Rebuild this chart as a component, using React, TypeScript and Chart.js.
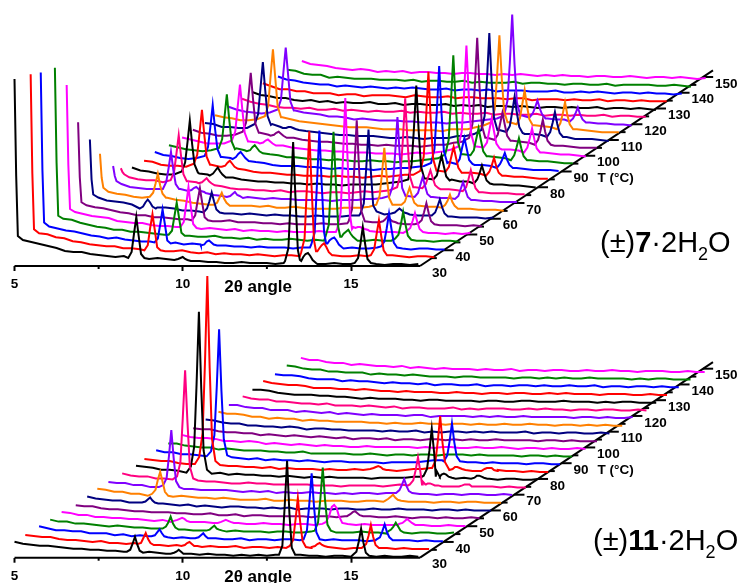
import React, { useEffect, useRef } from "react";
import { Chart, registerables } from "chart.js";

Chart.register(...registerables);

const FONT = '"Liberation Sans", Arial, sans-serif';
const temps = [30,35,40,45,50,55,60,65,70,75,80,85,90,95,100,105,110,115,120,125,130,135,140,145,150];
const palette = ["#000000","#ff0000","#0000ff","#008000","#ff00ff","#800080","#000080","#ff8000","#8000ff","#ff0080"];
const xTickLabels = [5,10,15];
const xMinorTicks = [7.5,12.5];
const tTicks = [30,40,50,60,70,80,90,100,110,120,130,140,150];
const tMinorTicks = [35,45,55,65,75,85,95,105,115,125,135,145];
const bgTheta = [5,5.25,5.5,5.75,6,6.25,6.5, 6.75,7,7.25,7.5,7.75,8,8.25, 8.5,8.75,9,9.25,9.5,9.75,10, 10.25,10.5,10.75,11,11.25,11.5,11.75, 12,12.25,12.5,12.75,13,13.25,13.5, 13.75,14,14.25,14.5,14.75,15,15.25, 15.5,15.75,16,16.25,16.5,16.75,17];
const peakOffsets = [-0.24,-0.14,-0.07,0,0.07,0.14,0.24];
const spikeTheta = [5,5.05,5.1];

// ---- (±)7·2H2O ----
const topShift = [0,.48,.78,1.2,1.55,1.89,2.24,2.54,2.93,3.16,3.49,3.85,4.17,4.59,4.98,5.3,5.66,5.96,6.34,6.76,7.06,7.38,7.83,8.1,8.54];
const topSpikes = [[187,90,30],[184,85,29],[178,80,28],[175,80,27],[150,70,26],[105,50,25],[80,40,25],[58,34,24],[38,28,23],[28,24,22]];
const topBg = [
[30,26,24,22,20,18,15, 14,14,12,11,10,9,10, 8,8,7,8,7,6,6, 5,5,4,4,3,3,4, 3,3,3,2,3,3,2, 3,2,2,3,2,2,2, 3,2,1,2,2,1,2],
[28,25,24,21,20,17,16, 14,13,12,12,10,10,9, 8,9,7,7,8,6,5, 6,4,5,4,4,3,4, 3,2,3,3,2,3,3, 2,3,2,2,3,2,1, 2,3,2,1,2,2,1],
[27,24,22,20,19,17,15, 14,12,13,11,10,9,9, 9,7,8,6,7,6,5, 5,5,4,4,3,4,3, 3,3,2,3,3,2,3, 2,2,3,2,2,3,2, 2,2,1,2,2,1,1],
[26,24,23,20,18,16,15, 13,13,11,11,10,9,8, 8,8,7,6,6,7,5, 5,4,5,3,4,3,3, 4,3,2,3,2,3,3, 3,2,2,3,2,2,2, 1,2,2,1,2,2,1],
[26,23,21,19,18,17,14, 13,12,12,10,9,9,8, 7,8,6,7,6,5,6, 4,5,4,4,3,4,3, 3,3,4,3,3,3,4, 4,4,3,3,3,2,3, 2,2,2,1,2,1,2],
[25,22,20,19,17,15,14, 12,12,10,10,9,8,8, 7,8,6,6,7,5,5, 5,4,4,3,4,3,3, 3,4,3,3,4,4,4, 5,5,4,4,3,3,3, 3,2,2,2,1,2,1],
[24,22,19,18,17,15,14, 13,12,12,11,9,9,8, 7,7,6,6,5,6,5, 4,5,4,4,3,3,4, 3,3,3,4,4,5,5, 5,6,5,5,4,4,4, 3,3,2,2,2,1,2],
[22,20,18,17,15,14,14, 14,14,12,11,9,8,7, 7,7,6,6,6,5,6, 4,4,5,4,3,3,3, 3,4,4,4,5,6,7, 7,6,7,6,5,5,5, 4,3,3,2,2,2,1],
[22,20,17,16,15,15,14, 15,15,13,12,11,9,8, 7,6,7,6,5,6,5, 5,4,4,4,4,3,4, 4,4,5,5,6,7,8, 8,8,7,7,6,6,5, 5,4,3,3,2,2,2],
[21,19,17,16,16,14,15, 16,15,14,12,12,10,8, 7,7,6,6,5,6,4, 5,5,4,3,4,4,3, 4,5,4,5,6,8,9, 9,8,8,7,7,6,6, 5,4,3,3,3,2,2],
[21,18,17,15,14,14,15, 17,15,14,13,12,11,9, 8,7,7,6,6,5,5, 4,5,4,4,3,4,4, 4,4,5,6,7,8,9, 10,9,8,9,7,7,6, 6,4,4,3,3,2,1],
[20,19,16,15,15,14,16, 17,16,14,14,13,11,9, 8,8,7,6,6,5,5, 5,4,5,4,4,3,4, 5,4,5,6,6,9,10, 10,9,9,8,8,7,6, 6,5,4,4,3,2,2],
[21,18,17,15,14,15,16, 18,16,15,13,13,11,10, 8,7,7,7,6,6,5, 4,5,4,4,4,3,4, 4,5,5,6,7,8,10, 11,10,9,8,8,7,7, 6,5,4,3,3,3,2],
[20,18,16,15,14,15,16, 18,17,15,14,12,11,10, 8,8,7,6,6,5,6, 5,4,4,5,4,4,3, 4,4,5,6,7,9,11, 11,10,9,9,8,7,6, 6,5,4,4,3,2,2],
[20,18,16,14,14,14,15, 18,16,15,14,13,12,10, 9,8,7,7,6,6,5, 5,5,4,4,4,3,4, 5,4,5,6,8,9,11, 11,10,10,8,8,7,7, 6,5,4,3,3,2,1],
[20,17,16,14,14,15,17, 19,17,15,14,13,12,10, 9,8,8,7,6,6,5, 5,4,5,4,4,4,3, 4,5,5,7,8,10,12, 12,10,9,9,8,7,6, 6,4,4,3,2,2,2],
[19,18,15,15,14,14,16, 19,18,15,14,13,11,10, 9,8,7,7,6,6,6, 5,4,4,5,4,3,4, 4,4,6,6,8,10,11, 12,11,9,8,8,7,6, 6,5,3,3,3,2,1],
[19,17,16,14,14,15,17, 20,17,15,13,12,11,10, 9,8,7,7,7,6,5, 5,5,4,4,4,4,3, 5,5,5,7,9,10,12, 12,11,10,9,8,7,7, 6,5,4,3,2,2,2],
[20,17,15,14,13,14,16, 19,16,14,13,12,10,10, 9,7,8,7,6,6,6, 5,5,4,4,4,3,4, 4,5,6,7,8,10,11, 11,10,9,8,7,7,6, 5,4,3,3,2,2,1],
[20,17,15,14,12,11,11, 10,11,9,9,10,8,9, 8,7,8,7,7,8,6, 7,6,6,7,5,6,5, 5,6,4,5,5,4,4, 5,3,4,4,3,4,3, 3,4,2,3,3,2,2],
[19,16,15,13,13,11,10, 11,9,10,8,9,8,8, 9,7,7,8,6,7,7, 6,6,7,5,6,5,6, 4,5,5,4,5,4,3, 4,4,3,4,3,3,4, 2,3,3,2,3,2,1],
[20,17,14,14,12,12,10, 10,10,8,9,9,7,8, 8,8,7,6,8,7,6, 6,7,5,6,6,5,5, 5,4,5,5,3,4,4, 4,3,4,3,3,4,2, 3,3,2,3,2,2,2],
[19,16,15,13,12,11,11, 9,10,9,8,9,8,7, 8,7,8,7,6,6,7, 5,6,6,5,6,4,5, 5,5,4,4,4,5,3, 3,4,3,4,3,2,3, 3,2,3,2,2,1,2],
[18,17,14,13,13,10,11, 10,9,9,9,8,8,8, 7,8,6,7,7,6,6, 7,5,6,5,5,5,6, 4,5,5,4,4,3,4, 4,3,3,4,2,3,3, 3,3,2,2,3,2,1],
[19,16,15,14,12,11,10, 11,10,8,9,8,9,7, 8,8,7,7,6,7,7, 6,6,5,6,5,6,5, 4,5,4,5,4,4,3, 4,4,3,3,4,3,2, 3,3,2,3,2,1,2],
];
const topPeaks = [
[[8.62,[8,14,32,49,30,12,8]],[10,[6,7,8,9,7,6,5]],[13.28,[5,18,70,124,68,16,5]],[13.72,[6,9,12,13,10,6,3]],[15.35,[3,8,22,39,22,7,3]]],
[[8.62,[8,13,30,44,28,11,8]],[13.28,[6,20,72,127,70,18,7]],[13.72,[7,10,13,15,11,6,3]],[15.35,[3,9,24,38,22,8,3]]],
[[8.62,[8,12,26,41,26,10,7]],[10,[5,6,9,10,8,6,5]],[13.28,[6,18,68,120,66,18,7]],[13.72,[7,10,12,13,10,6,3]],[15.35,[4,9,22,37,22,8,3]]],
[[8.62,[8,12,26,40,25,10,7]],[13.28,[6,18,62,111,60,16,6]],[13.72,[6,9,11,13,9,6,3]],[15.35,[4,8,18,31,18,7,3]]],
[[8.62,[8,13,30,48,28,11,7]],[13.28,[6,22,76,137,74,20,8]],[13.72,[6,7,8,8,7,6,5]],[15.35,[4,7,14,22,13,6,3]]],
[[8.62,[7,12,26,39,24,10,7]],[13.28,[6,18,60,107,58,16,6]],[14.2,[5,6,8,11,8,6,5]],[15.35,[4,7,15,24,14,6,3]]],
[[6.72,[11,13,17,20,17,13,11]],[8.62,[7,11,18,27,18,10,7]],[13.28,[6,16,50,90,48,14,8]],[14.2,[6,7,9,11,9,7,6]],[15.4,[4,7,13,20,12,6,3]]],
[[6.72,[15,19,28,38,26,18,14]],[8.62,[7,9,14,19,13,9,6]],[13.45,[7,16,38,64,36,14,7]],[14.2,[7,10,17,24,16,9,6]],[15.4,[4,7,11,17,10,6,3]]],
[[6.72,[15,22,36,52,34,20,15]],[7.47,[13,14,16,17,15,13,12]],[8.62,[7,8,10,12,9,8,6]],[13.45,[8,18,50,87,48,16,8]],[14.2,[7,11,19,27,18,10,7]],[15.4,[5,8,15,22,14,7,4]]],
[[6.72,[16,24,42,61,40,22,15]],[7.55,[13,14,16,18,15,13,11]],[13.45,[9,22,56,98,54,20,9]],[14.2,[8,12,19,26,18,11,8]],[15.4,[5,9,17,26,16,8,4]]],
[[6.72,[17,26,46,68,44,24,16]],[7.55,[13,15,18,21,17,14,11]],[13.45,[9,24,60,103,58,22,10]],[14.2,[9,13,23,33,22,12,8]],[15.4,[5,9,15,23,15,8,5]]],
[[6.72,[17,26,48,71,46,24,16]],[7.55,[14,15,18,20,17,14,12]],[13.45,[10,24,62,109,60,22,10]],[14.2,[9,14,24,34,23,13,8]],[15.4,[5,9,15,23,14,8,5]]],
[[6.72,[17,26,46,68,44,24,16]],[7.55,[14,16,19,21,18,15,12]],[13.45,[10,24,62,107,60,22,10]],[14.2,[9,14,25,35,24,13,9]],[15.4,[5,9,14,20,13,8,5]]],
[[6.72,[17,26,48,71,46,24,16]],[7.55,[14,15,18,20,17,14,12]],[13.45,[11,25,64,110,62,23,11]],[14.2,[10,15,26,37,25,14,9]],[15.4,[5,10,18,27,17,9,5]]],
[[6.72,[17,26,50,73,48,25,16]],[7.55,[14,15,17,18,16,14,12]],[13.45,[11,26,64,112,62,24,11]],[14.2,[10,15,27,39,26,14,9]],[15.4,[5,10,19,29,18,9,5]]],
[[6.72,[18,27,52,77,50,26,17]],[7.55,[14,15,17,18,16,14,12]],[13.45,[12,26,64,112,62,24,12]],[14.2,[10,15,26,37,25,14,9]],[15.4,[5,10,19,30,18,9,5]]],
[[6.72,[18,28,54,80,52,26,17]],[7.55,[14,14,15,15,14,13,12]],[13.45,[12,26,62,109,60,24,12]],[14.2,[10,16,30,45,29,15,9]],[15.4,[5,10,19,30,18,9,5]]],
[[6.72,[18,29,58,85,56,28,17]],[13.45,[12,25,58,99,56,23,12]],[14.2,[10,16,30,44,28,15,9]],[15.4,[5,11,20,32,19,10,5]]],
[[6.72,[17,27,54,79,52,25,16]],[13.45,[11,26,64,112,62,24,11]],[14.2,[9,13,19,26,18,12,8]],[15.4,[5,8,13,19,12,7,4]]],
[],[],[],[],[],[],
];

// ---- (±)11·2H2O ----
const botShift = [0,.32,.73,1.06,1.4,1.82,2.16,2.46,2.79,3.2,3.61,3.86,4.21,4.57,4.97,5.31,5.68,6.06,6.37,6.78,7.07,7.39,7.74,8.09,8.51];
const botBg = [
[16,14,13,12,12,11,10, 9,9,8,8,7,7,6, 6,5,6,5,4,5,4, 4,3,4,3,3,2,3, 2,3,2,3,2,2,3, 2,2,1,2,2,1,2, 2,1,2,1,1,2,1],
[15,14,13,13,11,10,10, 9,8,9,7,7,6,7, 5,6,5,4,5,4,4, 3,4,3,3,4,2,3, 3,2,3,2,2,3,2, 2,3,2,1,2,2,1, 2,2,1,2,1,1,1],
[16,14,12,12,11,11,9, 9,9,7,8,6,7,6, 6,5,4,5,4,4,3, 4,3,3,4,2,3,3, 2,3,3,2,3,2,2, 3,2,2,2,1,2,2, 1,2,2,1,2,1,1],
[15,13,13,11,11,10,9, 8,9,8,7,7,6,6, 5,6,5,4,4,5,4, 3,4,3,3,3,2,3, 3,2,2,3,2,3,2, 2,2,3,2,2,1,2, 2,1,2,2,1,1,2],
[15,14,12,12,10,10,9, 9,8,8,7,6,7,5, 6,5,5,5,4,4,4, 4,3,3,4,3,3,2, 3,3,2,3,3,2,3, 2,3,2,2,2,2,1, 2,2,1,1,2,1,1],
[14,13,13,11,10,10,9, 8,8,7,7,7,6,6, 5,5,6,4,4,5,3, 4,4,3,3,3,3,3, 2,3,3,2,3,2,2, 3,2,2,3,2,1,2, 2,1,2,1,1,2,1],
[15,13,12,11,11,9,9, 9,7,8,7,6,7,5, 6,5,4,5,5,4,4, 3,4,3,4,2,3,3, 3,2,3,3,2,2,3, 2,2,3,2,2,2,1, 2,2,1,2,1,1,1],
[15,14,12,12,10,10,8, 9,8,7,8,7,6,6, 5,6,5,4,4,4,5, 3,3,4,3,3,2,3, 3,3,2,2,3,3,2, 3,2,2,2,2,1,2, 2,1,2,2,1,1,1],
[14,13,13,11,11,9,9, 8,9,7,7,6,6,6, 6,5,4,5,4,5,3, 4,3,3,4,3,3,2, 3,2,3,3,2,3,3, 2,3,2,2,1,2,2, 1,2,2,1,1,2,1],
[15,13,12,12,10,10,9, 9,8,8,7,7,6,5, 5,6,5,5,4,4,4, 4,4,3,3,3,2,3, 3,3,3,2,3,4,3, 3,2,3,2,2,2,1, 2,2,2,1,2,1,1],
[15,14,13,11,11,10,8, 9,8,7,8,6,7,6, 6,5,5,4,5,4,3, 4,3,4,3,3,3,3, 2,3,3,3,3,4,4, 3,3,2,2,3,2,2, 2,1,2,2,1,1,2],
[14,13,12,12,10,9,9, 9,7,8,7,7,6,6, 5,6,4,5,4,4,4, 3,4,3,3,4,3,3, 3,3,2,3,4,4,5, 4,3,3,3,2,2,2, 3,2,2,1,2,1,1],
[15,13,13,11,11,10,9, 8,8,8,7,6,7,5, 6,5,5,4,5,4,3, 4,4,3,3,3,3,2, 3,3,3,3,4,5,5, 4,4,3,3,2,3,2, 2,2,1,2,2,1,1],
[14,14,12,11,10,10,8, 9,8,7,7,7,6,6, 5,5,6,4,4,4,4, 4,3,3,4,3,2,3, 3,2,3,3,2,3,3, 3,2,3,2,2,2,2, 1,2,2,1,2,1,1],
[15,13,12,12,11,9,9, 8,9,8,6,7,6,5, 6,5,4,5,4,4,3, 3,4,3,3,3,3,3, 2,3,2,3,3,2,2, 3,2,2,3,2,1,2, 2,1,2,1,1,2,1],
[14,13,13,11,10,10,9, 9,7,8,7,6,7,6, 5,6,5,4,5,3,4, 4,3,4,2,3,3,2, 3,3,2,3,2,3,2, 2,3,2,2,2,2,1, 2,2,1,2,1,1,1],
[15,14,12,11,11,9,9, 8,8,7,8,7,5,6, 6,5,5,4,4,4,4, 3,4,3,3,4,2,3, 2,3,3,2,3,2,3, 2,2,2,3,1,2,2, 1,2,2,1,1,2,1],
[15,13,13,12,10,10,8, 9,8,8,6,7,6,6, 5,5,5,5,4,4,3, 4,3,3,4,3,3,2, 3,3,2,3,2,2,3, 2,2,3,2,2,1,2, 2,1,2,1,2,1,1],
[14,14,12,11,11,9,9, 9,7,8,7,6,7,5, 6,5,4,5,4,4,4, 3,4,4,2,3,3,3, 3,2,3,2,3,2,2, 3,2,2,2,2,2,1, 2,2,1,2,1,1,2],
[15,13,12,12,10,10,9, 8,8,7,8,6,6,6, 5,6,5,4,5,3,4, 4,3,3,3,4,2,3, 2,3,3,3,2,2,3, 2,3,2,2,1,2,2, 1,2,2,1,1,2,1],
[14,14,13,11,10,9,9, 9,8,8,7,7,6,5, 6,5,5,5,4,4,3, 4,4,3,3,3,3,2, 3,3,2,2,3,3,2, 2,2,3,2,2,2,1, 2,1,2,2,1,1,1],
[15,13,12,11,11,10,8, 8,8,7,7,6,7,6, 5,5,4,5,4,4,4, 3,3,4,3,3,2,3, 3,2,3,3,2,2,3, 2,3,2,2,2,1,2, 2,2,1,1,2,1,1],
[14,13,13,12,10,9,9, 9,7,8,7,7,6,5, 6,5,5,4,5,3,4, 4,3,3,4,2,3,3, 2,3,3,2,3,2,2, 3,2,2,3,1,2,2, 1,2,2,1,2,1,1],
[15,14,12,11,11,9,9, 8,8,8,6,7,6,6, 5,6,5,4,4,4,3, 4,4,3,3,3,3,2, 3,3,2,3,2,3,2, 2,3,2,2,2,2,1, 2,1,2,2,1,1,1],
[15,13,13,11,10,10,8, 9,8,7,7,6,7,5, 6,5,4,5,4,4,4, 3,4,3,3,4,2,3, 3,2,3,3,2,2,3, 2,2,3,2,2,1,2, 2,2,1,1,2,1,1],
];
const botPeaks = [
[[8.58,[6,8,14,21,13,7,5]],[9.88,[4,5,6,8,6,4,4]],[13.1,[3,12,52,97,44,10,3]],[15.3,[3,6,16,29,15,5,2]]],
[[8.58,[6,7,12,17,11,7,5]],[9.88,[4,5,7,8,6,4,4]],[13.1,[4,10,30,52,28,9,3]],[13.75,[3,4,6,7,5,4,3]],[15.27,[3,6,14,25,13,5,2]]],
[[8.58,[6,7,10,13,9,6,5]],[9.88,[4,5,7,9,6,4,4]],[13.1,[3,12,38,69,36,10,3]],[15.27,[3,5,11,18,10,5,2]]],
[[8.58,[6,8,12,18,11,7,5]],[9.88,[4,5,7,9,6,5,4]],[13.1,[4,12,36,67,34,10,4]],[15.27,[3,5,8,12,8,4,2]]],
[[8.58,[6,7,8,9,8,6,5]],[9.88,[4,5,6,7,6,5,4]],[13.1,[5,12,20,22,19,11,4]],[15.27,[3,4,6,8,6,4,2]]],
[[13.3,[3,5,7,8,6,4,3]]],
[[6.87,[9,10,12,14,11,9,8]]],
[[6.87,[10,14,24,32,22,12,8]],[13.79,[3,5,7,9,6,4,3]]],
[[6.87,[11,18,40,66,38,15,9]],[13.79,[3,6,11,17,10,5,3]]],
[[6.87,[12,26,70,118,66,22,10]],[13.79,[4,8,18,31,17,7,4]],[14.15,[4,4,5,5,4,3,3]],[15.25,[2,3,4,4,4,2,2]]],
[[6.87,[14,34,96,169,92,30,11]],[13.79,[5,12,30,52,28,10,4]],[14.15,[4,5,6,7,6,4,3]],[15.2,[2,3,5,5,4,3,2]]],
[[6.87,[16,40,110,197,105,34,12]],[11.95,[4,5,6,7,6,4,3]],[13.79,[5,12,32,57,30,11,5]],[14.3,[3,4,6,6,5,4,3]],[15.25,[2,4,5,5,5,3,2]]],
[[6.87,[14,30,78,136,74,26,10]],[13.79,[4,10,24,42,23,9,4]]],
[],[],[],[],[],[],[],[],[],[],[],[],
];

const X0 = 17.05;
const SHEAR = 0.0701;
const RISE = 1.575;
const TMAX = 154.2;
const XMIN = 4.569;
const XMAX = 26.53;

type Pt = { x: number; y: number };

function buildSeries(bg: number[], peaks: any[], spike: number[] | undefined, shift: number, lift: number): Pt[] {
  const inPeak = (t: number) => peaks.some(([c]) => t >= c + peakOffsets[0] && t <= c + peakOffsets[6]);
  const pts: [number, number][] = [];
  bgTheta.forEach((t, k) => {
    if (!inPeak(t) && !(spike && t <= spikeTheta[2])) pts.push([t, bg[k]]);
  });
  peaks.forEach(([c, v]) => v.forEach((y: number, k: number) => pts.push([c + peakOffsets[k], y])));
  if (spike) spike.forEach((y, k) => pts.push([spikeTheta[k], y]));
  pts.sort((a, b) => a[0] - b[0]);
  return pts.map(([t, y]) => ({ x: t + shift, y: y + lift }));
}

function makeDatasets(bgs: number[][], peaks: any[][], spikes: number[][], shifts: number[], liftPerC: number) {
  const ds: any[] = temps.map((T, i) => ({
    label: T + " °C",
    data: buildSeries(bgs[i], peaks[i], spikes[i], shifts[i], (T - 30) * liftPerC),
    borderColor: palette[i % palette.length],
    borderWidth: 2,
    pointRadius: 0,
    tension: 0,
    clip: false,
  }));
  const axisDs = (data: Pt[]) => ({ data, borderColor: "#000", borderWidth: 2, pointRadius: 0, clip: false, tension: 0 });
  ds.push(axisDs([{ x: 5, y: 0 }, { x: X0, y: 0 }]));
  ds.push(axisDs([{ x: X0, y: 0 }, { x: X0 + SHEAR * (TMAX - 30), y: RISE * (TMAX - 30) }]));
  tTicks.slice(1).forEach((T) => {
    const x = X0 + SHEAR * (T - 30), y = RISE * (T - 30);
    ds.push(axisDs([{ x, y }, { x: x + 0.3, y }]));
  });
  tMinorTicks.forEach((T) => {
    const x = X0 + SHEAR * (T - 30), y = RISE * (T - 30);
    ds.push(axisDs([{ x, y }, { x: x + 0.15, y }]));
  });
  return ds;
}

function textPlugin(parts: { t: string; bold?: boolean; sub?: boolean }[], fx: number, fy: number, titleY: number) {
  return {
    id: "panelText",
    afterDatasetsDraw(chart: any) {
      const { ctx, scales } = chart;
      const sx = scales.x, sy = scales.y;
      ctx.save();
      ctx.fillStyle = "#000";
      xMinorTicks.forEach((v) => {
        const px = sx.getPixelForValue(v);
        ctx.fillRect(px - 1, sy.getPixelForValue(0), 2, 3);
      });
      ctx.textBaseline = "middle";
      ctx.textAlign = "left";
      ctx.font = `bold 13.5px ${FONT}`;
      tTicks.forEach((T) => {
        const x = sx.getPixelForValue(X0 + SHEAR * (T - 30)) + 12;
        const y = sy.getPixelForValue(RISE * (T - 30)) + 7;
        ctx.fillText(String(T), x, y);
        if (T === 90) ctx.fillText("T (°C)", x + 24, y + 0);
      });
      ctx.font = `bold 17px ${FONT}`;
      ctx.textAlign = "center";
      ctx.fillText("2θ angle", sx.getPixelForValue(12.24), titleY);
      ctx.textAlign = "left";
      let x = fx;
      parts.forEach((p) => {
        const size = p.sub ? 18 : 29;
        ctx.font = `${p.bold ? "bold " : ""}${size}px ${FONT}`;
        ctx.textBaseline = "alphabetic";
        ctx.fillText(p.t, x, fy + (p.sub ? 8 : 0));
        x += ctx.measureText(p.t).width;
      });
      ctx.restore();
    },
  };
}

function makeChart(canvas: HTMLCanvasElement, datasets: any[], yMax: number, axisH: number, plugin: any) {
  return new Chart(canvas, {
    type: "line",
    data: { datasets },
    plugins: [plugin],
    options: {
      animation: false,
      responsive: false,
      parsing: false as any,
      normalized: true,
      layout: { padding: 0 },
      plugins: { legend: { display: false }, tooltip: { enabled: false }, title: { display: false } },
      scales: {
        x: {
          type: "linear",
          min: XMIN,
          max: XMAX,
          afterFit: (s: any) => { s.height = axisH; },
          afterBuildTicks: (s: any) => { s.ticks = xTickLabels.map((value) => ({ value })); },
          border: { display: false },
          grid: { drawOnChartArea: false, drawTicks: true, tickLength: 5, tickWidth: 2, tickColor: "#000" },
          ticks: { color: "#000", maxRotation: 0, autoSkip: false, padding: 5, font: { family: FONT, size: 13.5, weight: "bold" } },
        },
        y: { type: "linear", min: 0, max: yMax, display: false },
      },
    } as any,
  });
}

export default function App() {
  const topRef = useRef<HTMLCanvasElement>(null);
  const botRef = useRef<HTMLCanvasElement>(null);
  useEffect(() => {
    const top = makeChart(
      topRef.current!,
      makeDatasets(topBg, topPeaks, topSpikes, topShift, 1.55),
      266, 34,
      textPlugin([{ t: "(±)" }, { t: "7", bold: true }, { t: "·2H" }, { t: "2", sub: true }, { t: "O" }], 600, 252, 287),
    );
    const bot = makeChart(
      botRef.current!,
      makeDatasets(botBg, botPeaks, [], botShift, 1.54),
      297.7, 25.3,
      textPlugin([{ t: "(±)" }, { t: "11", bold: true }, { t: "·2H" }, { t: "2", sub: true }, { t: "O" }], 593, 290, 317),
    );
    return () => { top.destroy(); bot.destroy(); };
  }, []);
  return (
    <div style={{ position: "absolute", left: 0, top: 0, width: 739, height: 583, background: "#fff", overflow: "hidden" }}>
      <canvas ref={topRef} width={739} height={300} style={{ position: "absolute", left: 0, top: 0, width: 739, height: 300 }} />
      <canvas ref={botRef} width={739} height={323} style={{ position: "absolute", left: 0, top: 260, width: 739, height: 323 }} />
    </div>
  );
}
